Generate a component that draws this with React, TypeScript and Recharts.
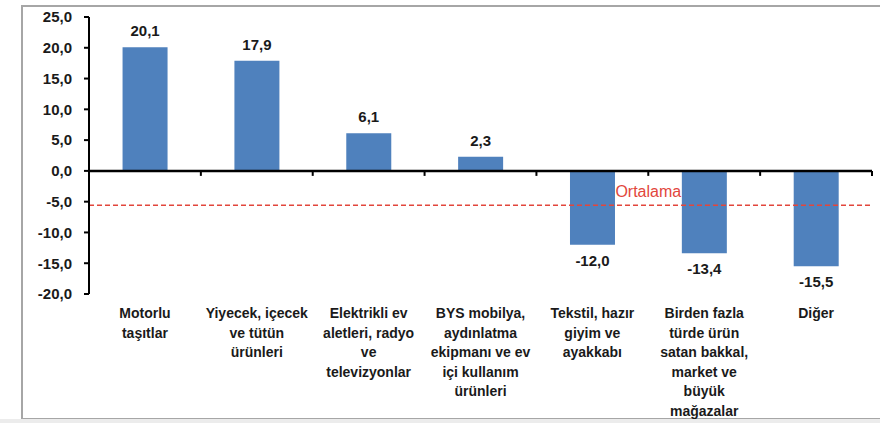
import { BarChart, Bar, XAxis, YAxis, ReferenceLine, LabelList } from "recharts";

const CATEGORIES = [
    "Motorlu\ntaşıtlar",
    "Yiyecek, içecek\nve tütün\nürünleri",
    "Elektrikli ev\naletleri, radyo\nve\ntelevizyonlar",
    "BYS mobilya,\naydınlatma\nekipmanı ve ev\niçi kullanım\nürünleri",
    "Tekstil, hazır\ngiyim ve\nayakkabı",
    "Birden fazla\ntürde ürün\nsatan bakkal,\nmarket ve\nbüyük\nmağazalar",
    "Diğer",
];
const VALUES = [20.1, 17.9, 6.1, 2.3, -12.0, -13.4, -15.5];
const Y_TICKS = [-20, -15, -10, -5, 0, 5, 10, 15, 20, 25];
const AVERAGE = -5.6;
const AVERAGE_LABEL = "Ortalama";
const AVERAGE_LABEL_AT = 5; // boundary between 5th and 6th category

const FONT = "'Liberation Sans', Arial, sans-serif";
const BAR_COLOR = "#4f81bd";
const AVG_COLOR = "#e2463c";

const data = CATEGORIES.map((name, i) => ({ name, value: VALUES[i] }));

const fmt = (v: number) => v.toFixed(1).replace(".", ",");

const CategoryTick = ({ x, y, payload }: any) => {
    const lines = String(payload.value).split("\n");
    return (
        <text x={x} y={y} textAnchor="middle" fill="#1a1a1a" fontSize={14} fontWeight="bold" fontFamily={FONT}>
            {lines.map((line, i) => (
                <tspan key={i} x={x} dy={i === 0 ? 24 : 19.5}>
                    {line}
                </tspan>
            ))}
        </text>
    );
};

const ValueLabel = ({ x, y, width, height, value }: any) => {
    const top = Math.min(y, y + height);
    const bottom = Math.max(y, y + height);
    const cx = x + width / 2;
    const ty = value >= 0 ? top - 11 : bottom + 21;
    return (
        <text x={cx} y={ty} textAnchor="middle" fill="#1a1a1a" fontSize={15} fontWeight="bold" fontFamily={FONT}>
            {fmt(value)}
        </text>
    );
};

// zero line with category boundary ticks
const ZeroLine = ({ x1, y1, x2, y2 }: any) => {
    const n = CATEGORIES.length;
    const step = (x2 - x1) / n;
    return (
        <g>
            <line x1={x1} y1={y1} x2={x2} y2={y2} stroke="#000" strokeWidth={2.5} />
            {CATEGORIES.map((_, i) => (
                <line key={i} x1={x1 + step * (i + 1)} y1={y1} x2={x1 + step * (i + 1)} y2={y1 + 5} stroke="#000" strokeWidth={2} />
            ))}
        </g>
    );
};

const AverageLabel = ({ viewBox }: any) => {
    const cx = viewBox.x + (viewBox.width * AVERAGE_LABEL_AT) / CATEGORIES.length;
    return (
        <text x={cx} y={viewBox.y - 8} textAnchor="middle" fill={AVG_COLOR} fontSize={16} fontFamily={FONT}>
            {AVERAGE_LABEL}
        </text>
    );
};

export default function App() {
    return (
        <div style={{ position: "absolute", left: 0, top: 0, width: 880, height: 423, background: "#fff", overflow: "hidden" }}>
            <div
                style={{
                    position: "absolute",
                    left: 21,
                    top: 5,
                    width: 859,
                    height: 411,
                    borderLeft: "2px solid #a6a6a6",
                    borderTop: "2px solid #a6a6a6",
                    borderBottom: "2px solid #a6a6a6",
                }}
            />
            <div style={{ position: "absolute", left: 0, top: 419, width: 880, height: 4, background: "#ececec" }} />
            <div style={{ position: "absolute", left: 0, top: 0 }}>
                <BarChart width={880} height={423} data={data} margin={{ top: 17, right: 8, bottom: 0, left: 0 }} barCategoryGap="30%">
                    <XAxis dataKey="name" height={129} axisLine={false} tickLine={false} tickSize={0} tickMargin={0} interval={0} tick={<CategoryTick />} />
                    <YAxis
                        width={89}
                        domain={[-20, 25]}
                        ticks={Y_TICKS}
                        tickFormatter={fmt}
                        axisLine={{ stroke: "#000", strokeWidth: 2 }}
                        tickLine={{ stroke: "#000", strokeWidth: 2 }}
                        tickSize={5}
                        tickMargin={12}
                        tick={{ fill: "#1a1a1a", fontSize: 15, fontWeight: "bold", fontFamily: FONT }}
                    />
                    <ReferenceLine y={AVERAGE} stroke="none" label={<AverageLabel />} />
                    <Bar dataKey="value" fill={BAR_COLOR} isAnimationActive={false}>
                        <LabelList dataKey="value" content={<ValueLabel />} />
                    </Bar>
                    <ReferenceLine y={0} shape={<ZeroLine />} />
                    <ReferenceLine y={AVERAGE} stroke={AVG_COLOR} strokeWidth={1.5} strokeDasharray="5 3" />
                </BarChart>
            </div>
        </div>
    );
}
